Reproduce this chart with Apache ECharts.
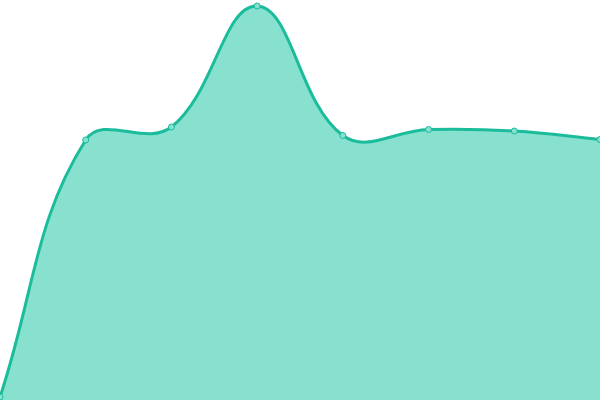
<!DOCTYPE html>
<html lang="en">
<head>
    <meta charset="UTF-8">
    <title>area chart</title>
    <script src="https://cdn.jsdelivr.net/npm/echarts@6/dist/echarts.min.js"></script>
    <style>
        html, body { margin: 0; padding: 0; background: #fff; }
        #main { width: 600px; height: 400px; }
    </style>
</head>
<body>
<div id="main"></div>
<script>
    // data
    var categories = ['A', 'B', 'C', 'D', 'E', 'F', 'G', 'H'];
    var values = [3, 260, 273, 394, 264.5, 270.5, 269, 260.5];

    var TENSION = 0.4;

    // spline through the points, positions come from the axes via api.coord
    function renderCurve(params, api) {
        if (params.dataIndex !== 0) return null;
        var pts = values.map(function (v, i) { return api.coord([i, v]); });
        var cps = pts.map(function (cur, i) {
            var prev = pts[i - 1] || cur;
            var next = pts[i + 1] || cur;
            var d01 = Math.hypot(cur[0] - prev[0], cur[1] - prev[1]);
            var d12 = Math.hypot(next[0] - cur[0], next[1] - cur[1]);
            var s01 = d01 / (d01 + d12) || 0;
            var s12 = d12 / (d01 + d12) || 0;
            var dx = next[0] - prev[0], dy = next[1] - prev[1];
            return {
                p: [cur[0] - TENSION * s01 * dx, cur[1] - TENSION * s01 * dy],
                n: [cur[0] + TENSION * s12 * dx, cur[1] + TENSION * s12 * dy]
            };
        });
        var d = 'M' + pts[0][0] + ' ' + pts[0][1];
        for (var i = 1; i < pts.length; i++) {
            d += ' C' + cps[i - 1].n[0] + ' ' + cps[i - 1].n[1] + ' ' +
                cps[i].p[0] + ' ' + cps[i].p[1] + ' ' + pts[i][0] + ' ' + pts[i][1];
        }
        var cs = params.coordSys;
        var bottom = cs.y + cs.height;
        var area = d + ' L' + pts[pts.length - 1][0] + ' ' + bottom +
            ' L' + pts[0][0] + ' ' + bottom + ' Z';
        return {
            type: 'group',
            children: [
                { type: 'path', shape: { pathData: area }, style: { fill: '#88e0cf', stroke: null } },
                { type: 'path', shape: { pathData: d }, style: { fill: null, stroke: '#1abc9c', lineWidth: 3 } }
            ]
        };
    }

    var myChart = echarts.init(document.getElementById('main'));
    myChart.setOption({
        animation: false,
        grid: { left: 0, right: 0, top: 0, bottom: 0 },
        xAxis: {
            type: 'category',
            boundaryGap: false,
            data: categories,
            show: false
        },
        yAxis: {
            type: 'value',
            min: 0,
            max: 400,
            show: false
        },
        series: [{
            type: 'custom',
            renderItem: renderCurve,
            data: values.map(function (v, i) { return [i, v]; }),
            encode: { x: 0, y: 1 },
            z: 1
        }, {
            type: 'line',
            data: values,
            symbol: 'circle',
            symbolSize: 6,
            lineStyle: { opacity: 0 },
            itemStyle: { color: '#88e0cf', borderColor: '#1abc9c', borderWidth: 1 },
            z: 3
        }]
    });
</script>
</body>
</html>
